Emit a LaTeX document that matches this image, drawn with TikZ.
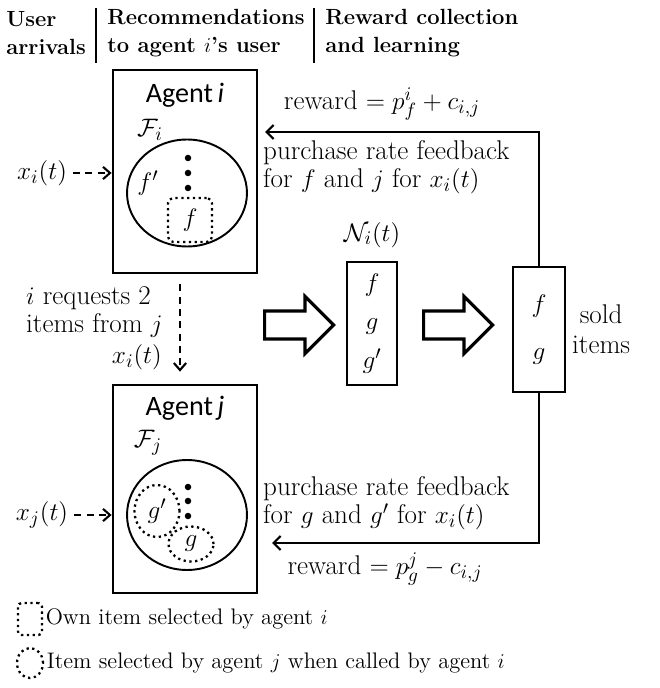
\documentclass[tikz,border=0pt]{standalone}
\usepackage{fontspec}
\newfontfamily\agentfont{Carlito}
\usetikzlibrary{arrows.meta, positioning, shapes.geometric, shapes.arrows}

\begin{document}
\begin{tikzpicture}[
        x=0.02cm, y=-0.02cm,
        every node/.style={font=\fontsize{15.4}{16}\selectfont},
        head/.style={font=\fontsize{12.5}{16}\selectfont\bfseries, align=left, anchor=west, inner sep=0pt},
        agent/.style={rectangle, draw, line width=1.6pt, minimum width=2.88cm, inner sep=0pt},
        agentname/.style={font=\agentfont\fontsize{16}{18}\selectfont},
        itemset/.style={ellipse, draw, line width=1.1pt, minimum width=2.4cm, inner sep=0pt},
        own/.style={rectangle, draw, dotted, line width=1.3pt, rounded corners=3pt, minimum size=0.88cm, inner sep=0pt},
        called/.style={ellipse, draw, dotted, line width=1.3pt, minimum width=0.9cm, inner sep=0pt},
        listbox/.style={rectangle, draw, line width=1.1pt, minimum width=1cm, inner sep=0pt, align=center},
        bigarrow/.style={single arrow, draw, line width=1.8pt, minimum height=1.38cm, single arrow head extend=0.29cm, inner sep=0.25cm, anchor=tail},
        dot/.style={circle, fill, inner sep=0pt, minimum size=0.13cm},
        dasharrow/.style={-{Straight Barb[length=4pt, width=7pt]}, dash pattern=on 4pt off 3pt, line width=1.2pt},
        feedback/.style={-{Straight Barb[length=4pt, width=8pt]}, line width=1.3pt},
        legend/.style={font=\fontsize{12.8}{15}\selectfont},
        ]
    \useasboundingbox (0,0) rectangle (659,688);

    % Column headers
    \node[head] (hUser) at (6,33) {User\\arrivals};
    \node[head] (hRec) at (107,33) {Recommendations\\to agent $i$'s user};
    \node[head] (hReward) at (325,33) {Reward collection\\and learning};
    \draw[line width=1pt] (96,8) -- (96,63);
    \draw[line width=1pt] (314,8) -- (314,63);

    % Agent i
    \node[agent, minimum height=4.06cm] (ai) at (185,171.5) {};
    \node[agentname] (ailabel) at (185,95) {Agent\,\textit{i}};
    \node (Fi) at (150,130) {$\mathcal{F}_i$};
    \node[itemset, minimum height=2.14cm] (seti) at (187,193) {};
    \foreach \y in {158,173,188}
        \node[dot] (doti\y) at (188,\y) {};
    \node (fprime) at (148,183) {$f'$};
    \node[own] (fown) at (190,220) {$f$};
    \node (xi) at (42,173) {$x_i(t)$};
    \draw[dasharrow] (xi.east) -- (xi.east -| ai.west);

    % Agent j
    \node[agent, minimum height=4.16cm] (aj) at (185,489) {};
    \node[agentname] (ajlabel) at (185,408) {Agent\,\textit{j}};
    \node (Fj) at (148,443) {$\mathcal{F}_j$};
    \node[itemset, minimum height=2.2cm] (setj) at (187,515) {};
    \foreach \y in {487,501,516}
        \node[dot] (dotj\y) at (188,\y) {};
    \node[called, minimum height=1.04cm] (gprime) at (157,511) {$g'$};
    \node[called, minimum height=0.7cm] (gcalled) at (191,544) {$g$};
    \node (xj) at (42,515) {$x_j(t)$};
    \draw[dasharrow] (xj.east) -- (xj.east -| aj.west);

    % Request from i to j
    \draw[dasharrow] ([xshift=-0.1cm, yshift=-0.2cm]ai.south) -- ([xshift=-0.1cm, yshift=0.24cm]aj.north);
    \node[align=left, anchor=north west] (req) at (20,280) {$i$ requests 2\\items from $j$};
    \node[anchor=east] (xireq) at (168,357) {$x_i(t)$};

    % Recommended and sold items
    \node[bigarrow] (arr1) at (263,325) {};
    \node[listbox, minimum height=2.46cm, font=\fontsize{15.4}{22}\selectfont] (nlist) at (372,323.5) {$f$\\$g$\\$g'$};
    \node[above=0.15cm of nlist] (nlabel) {$\mathcal{N}_i(t)$};
    \node[bigarrow] (arr2) at (422,325) {};
    \node[listbox, minimum width=1.04cm, minimum height=2.5cm, font=\fontsize{15.4}{27}\selectfont] (sold) at (539,329.5) {$f$\\$g$};
    \node[right=0pt of sold, align=center, font=\fontsize{15.4}{17}\selectfont] (soldlabel) {sold\\items};

    % Feedback to the agents
    \coordinate (topend) at (265,132);
    \coordinate (botend) at (272,543);
    \draw[feedback] (sold.north) |- (topend);
    \draw[feedback] (sold.south) |- (botend);
    \node (rwi) at (382,104) {reward $= p^i_f + c_{i,j}$};
    \node[align=left, anchor=west] (fbi) at (257,167) {purchase rate feedback\\for $f$ and $j$ for $x_i(t)$};
    \node[align=left, anchor=west] (fbj) at (257,503) {purchase rate feedback\\for $g$ and $g'$ for $x_i(t)$};
    \node (rwj) at (385,569) {reward $= p^j_g - c_{i,j}$};

    % Legend
    \node[own, minimum width=0.48cm, minimum height=0.64cm, rounded corners=2pt] (legown) at (30,619) {};
    \node[legend, right=-2pt of legown] (legowntext) {Own item selected by agent $i$};
    \node[called, minimum width=0.52cm, minimum height=0.6cm] (legcalled) at (30,663) {};
    \node[legend, right=-2pt of legcalled] (legcalledtext) {Item selected by agent $j$ when called by agent $i$};

\end{tikzpicture}
\end{document}
